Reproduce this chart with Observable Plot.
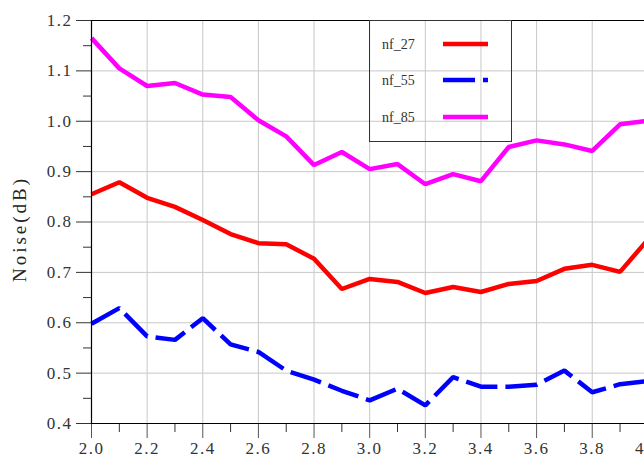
<!DOCTYPE html>
<html>
<head>
<meta charset="utf-8">
<script src="https://cdn.jsdelivr.net/npm/d3@7"></script>
<script src="https://cdn.jsdelivr.net/npm/@observablehq/plot@0.6"></script>
<style>
  html, body { margin: 0; padding: 0; background: #fff; overflow: hidden; width: 644px; height: 461px; }
  #wrap { position: relative; width: 644px; height: 461px; overflow: hidden; }
  #wrap svg.plot { max-width: none !important; }
  #legend { position: absolute; left: 369px; top: 20px; width: 143px; height: 122px; box-sizing: border-box; border: 1px solid #333; }
</style>
</head>
<body>
<div id="wrap"><div id="legend"></div></div>
<script>
const xs = [2.0, 2.1, 2.2, 2.3, 2.4, 2.5, 2.6, 2.7, 2.8, 2.9, 3.0, 3.1, 3.2, 3.3, 3.4, 3.5, 3.6, 3.7, 3.8, 3.9, 4.0];
const nf_27 = [0.855, 0.879, 0.848, 0.830, 0.804, 0.776, 0.758, 0.756, 0.727, 0.667, 0.687, 0.681, 0.659, 0.671, 0.661, 0.677, 0.683, 0.707, 0.715, 0.701, 0.765];
const nf_55 = [0.598, 0.629, 0.573, 0.566, 0.609, 0.557, 0.542, 0.505, 0.487, 0.465, 0.446, 0.469, 0.436, 0.492, 0.473, 0.473, 0.477, 0.505, 0.462, 0.478, 0.484];
const nf_85 = [1.165, 1.105, 1.070, 1.076, 1.053, 1.048, 1.002, 0.970, 0.913, 0.939, 0.905, 0.915, 0.875, 0.895, 0.881, 0.949, 0.962, 0.954, 0.941, 0.994, 1.001];
const seriesNames = ["nf_27", "nf_55", "nf_85"];
const seriesColors = ["#ff0000", "#0000ff", "#ff00ff"];
const seriesDash = [null, "32,8", null];
const yMajor = [0.4, 0.5, 0.6, 0.7, 0.8, 0.9, 1.0, 1.1, 1.2];
const yMinor = [0.45, 0.55, 0.65, 0.75, 0.85, 0.95, 1.05, 1.15];
const xMajor = [2.0, 2.2, 2.4, 2.6, 2.8, 3.0, 3.2, 3.4, 3.6, 3.8, 4.0, 4.2];
const xMinor = [2.1, 2.3, 2.5, 2.7, 2.9, 3.1, 3.3, 3.5, 3.7, 3.9, 4.1];

const seriesValues = [nf_27, nf_55, nf_85];
const rows = [];
seriesNames.forEach((name, i) => xs.forEach((x, j) => rows.push({x, y: seriesValues[i][j], s: name})));

const font = "'Liberation Serif', 'DejaVu Serif', serif";
const fmt = d3.format(".1f");

const lineMarks = seriesNames.map((name, i) =>
  Plot.line(rows.filter(d => d.s === name), {
    x: "x", y: "y", stroke: seriesColors[i], strokeWidth: 4.5,
    strokeDasharray: seriesDash[i] || undefined, strokeLinejoin: "miter", strokeLinecap: "butt"
  })
);

const chart = Plot.plot({
  width: 710, height: 461,
  marginLeft: 91, marginRight: 7, marginTop: 20, marginBottom: 38,
  style: { fontFamily: font, fontSize: "16px", background: "transparent", overflow: "visible", maxWidth: "none" },
  x: { domain: [2.0, 4.2], axis: null },
  y: { domain: [0.4, 1.2], axis: null },
  marks: [
    Plot.gridX(xMajor, { stroke: "#c8c8c8", strokeOpacity: 1, strokeWidth: 1 }),
    Plot.gridY(yMajor, { stroke: "#c8c8c8", strokeOpacity: 1, strokeWidth: 1 }),
    ...lineMarks,
    Plot.axisY(yMajor, { anchor: "left", tickSize: 15, tickPadding: 4, tickFormat: fmt, stroke: "#333", fill: "#333", fontSize: 17, label: null }),
    Plot.axisY(yMinor, { anchor: "left", tickSize: 8, tickFormat: null, text: null, stroke: "#333", label: null }),
    Plot.axisX(xMajor, { anchor: "bottom", tickSize: 15, tickPadding: 3, tickFormat: fmt, stroke: "#555", fill: "#333", fontSize: 17, label: null }),
    Plot.axisX(xMinor, { anchor: "bottom", tickSize: 9, text: null, tickFormat: null, stroke: "#333", label: null }),
    Plot.ruleX([2.0], { stroke: "#000", strokeWidth: 1.2 }),
    Plot.ruleY([0.4], { stroke: "#000", strokeWidth: 1.2 }),
    Plot.ruleY([1.2], { stroke: "#000", strokeWidth: 1.2 }),
    Plot.text(["Noise(dB)"], { frameAnchor: "left", textAnchor: "middle", dx: -72, dy: 7, rotate: -90, fontSize: 19, fill: "#222" })
  ]
});
chart.style.position = "absolute";
chart.style.left = "0px";
chart.style.top = "0px";
chart.style.maxWidth = "none";
chart.querySelectorAll("text").forEach(t => t.style.letterSpacing = "1.5px");
chart.querySelectorAll("text").forEach(t => { if (t.textContent === "Noise(dB)") t.style.letterSpacing = "3px"; });
document.getElementById("wrap").insertBefore(chart, document.getElementById("legend"));

// legend
const lg = d3.select("#legend").append("svg").attr("width", 141).attr("height", 120)
  .style("position", "absolute").style("left", "0px").style("top", "0px");
const rowY = [23, 59, 96];
seriesNames.forEach((name, i) => {
  lg.append("text").attr("x", 12).attr("y", rowY[i]).attr("dy", "0.35em")
    .attr("font-family", font).attr("font-size", 14).attr("fill", "#333").text(name);
  lg.append("line").attr("x1", 73).attr("x2", 118).attr("y1", rowY[i]).attr("y2", rowY[i])
    .attr("stroke", seriesColors[i]).attr("stroke-width", 4.5)
    .attr("stroke-dasharray", seriesDash[i]);
});
</script>
</body>
</html>
